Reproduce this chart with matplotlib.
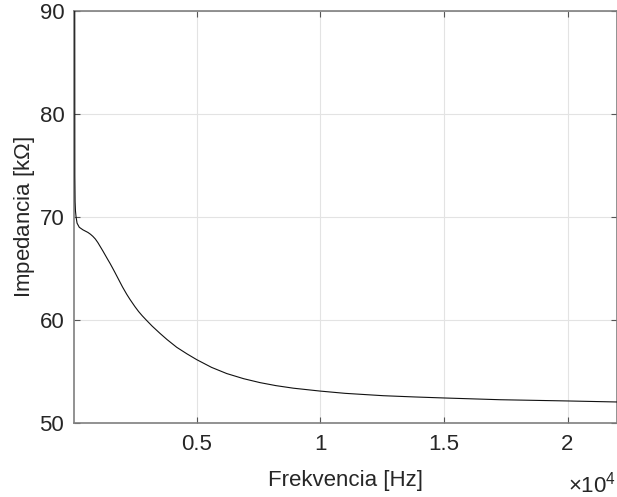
import matplotlib
matplotlib.use("Agg")
import matplotlib.pyplot as plt
from matplotlib.ticker import FixedLocator, FixedFormatter

# Data
freq_hz = [36, 55, 66, 70, 80, 95, 120, 160, 250, 400, 600, 700, 800, 900,
           1000, 1100, 1200, 1300, 1400, 1493, 1600, 1700, 1800, 1900, 2000,
           2168, 2300, 2400, 2500, 2650, 2800, 2977, 3200, 3515, 3800, 4191,
           4600, 5000, 5600, 6214, 6900, 7561, 8200, 8908, 9988, 11000,
           12550, 13800, 15000, 17270, 20000, 22020]
impedance_kohm = [400, 250, 92, 74, 71.5, 70.6, 70.0, 69.4, 69.0, 68.75,
                  68.5, 68.33, 68.12, 67.86, 67.52, 67.12, 66.72, 66.3, 65.88,
                  65.5, 65.03, 64.58, 64.12, 63.66, 63.2, 62.5, 62.0, 61.65,
                  61.3, 60.82, 60.4, 59.95, 59.4, 58.7, 58.1, 57.35, 56.72,
                  56.15, 55.4, 54.8, 54.3, 53.92, 53.63, 53.38, 53.1, 52.88,
                  52.65, 52.53, 52.43, 52.26, 52.14, 52.04]

x_ticks = [5000, 10000, 15000, 20000]
x_tick_labels = ["0.5", "1", "1.5", "2"]
y_ticks = [50, 60, 70, 80, 90]
y_tick_labels = ["50", "60", "70", "80", "90"]

plt.rcParams['font.family'] = ['Liberation Sans', 'DejaVu Sans']
plt.rcParams['mathtext.fontset'] = 'custom'
plt.rcParams['mathtext.rm'] = 'Liberation Sans'
plt.rcParams['mathtext.it'] = 'Liberation Sans:italic'

W, H = 617, 497
fig = plt.figure(figsize=(W / 100, H / 100), dpi=100)
left, right, top, bottom = 74, 617.5, 11, 423
ax = fig.add_axes([left / W, 1 - bottom / H, (right - left) / W, (bottom - top) / H])

txt = '#262626'
ax.plot(freq_hz, impedance_kohm, color='#111111', lw=0.8, zorder=3)
ax.set_xlim(36, 22020)
ax.set_ylim(50, 90)

ax.xaxis.set_major_locator(FixedLocator(x_ticks))
ax.xaxis.set_major_formatter(FixedFormatter(x_tick_labels))
ax.yaxis.set_major_locator(FixedLocator(y_ticks))
ax.yaxis.set_major_formatter(FixedFormatter(y_tick_labels))

ax.grid(True, color='#e3e3e3', lw=0.8)
ax.set_axisbelow(True)
for s in ax.spines.values():
    s.set_color('#7f7f7f')
    s.set_linewidth(1.2)
ax.tick_params(direction='in', length=4, width=0.8, colors='#555555',
               labelcolor=txt, labelsize=16, top=True, right=True)
ax.tick_params(axis='x', pad=8)
ax.tick_params(axis='y', pad=7)

ax.set_xlabel('Frekvencia [Hz]', fontsize=16, color=txt, labelpad=11)
ax.set_ylabel(r'Impedancia [k$\mathit{\Omega}$]', fontsize=16, color=txt, labelpad=2)

fig.text(0.999, 1 - 492 / H, r'$\times10^{4}$', fontsize=16, color=txt,
         ha='right', va='baseline')

fig.savefig('out.png', dpi=100)
